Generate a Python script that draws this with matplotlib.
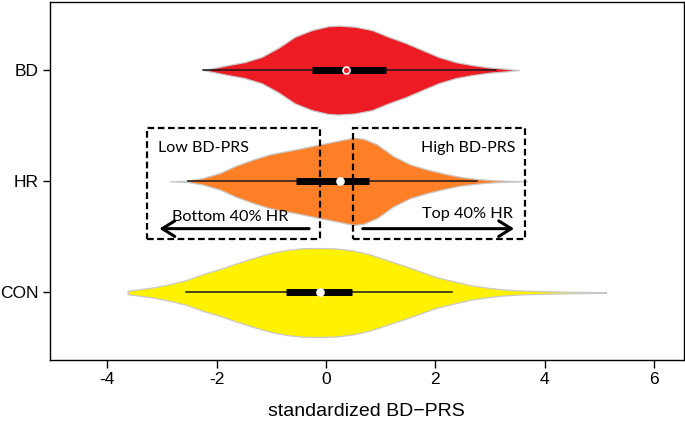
import numpy as np
import matplotlib
matplotlib.use('Agg')
import matplotlib.pyplot as plt
from matplotlib.patches import Rectangle, FancyArrowPatch

plt.rcParams['axes.unicode_minus'] = False

# violin outlines: x position and half-width (in y units)
bd_x = [-2.25, -1.79, -1.49, -1.18, -0.875, -0.57, -0.26, 0.04, 0.23, 0.53,
        0.84, 1.14, 1.45, 1.76, 2.06, 2.37, 2.67, 2.98, 3.28, 3.53]
bd_w = [0.0, 0.045, 0.072, 0.118, 0.2, 0.3, 0.36, 0.395, 0.40, 0.39,
        0.36, 0.3, 0.245, 0.18, 0.118, 0.072, 0.045, 0.024, 0.012, 0.0]

hr_x = [-2.86, -2.53, -2.25, -1.94, -1.64, -1.33, -1.03, -0.72, -0.42, -0.11,
        0.20, 0.50, 0.68, 0.93, 1.23, 1.54, 1.85, 2.15, 2.46, 2.76, 3.07, 3.68]
hr_w = [0.0, 0.006, 0.03, 0.075, 0.142, 0.196, 0.242, 0.271, 0.3, 0.332,
        0.362, 0.392, 0.383, 0.332, 0.226, 0.151, 0.106, 0.07, 0.039, 0.021, 0.009, 0.0]

con_x = [-3.63, -3.17, -2.86, -2.56, -2.25, -1.94, -1.64, -1.33, -1.03, -0.72,
         -0.42, -0.11, 0.20, 0.50, 0.81, 1.11, 1.42, 1.72, 2.03, 2.34,
         2.64, 2.95, 3.25, 3.56, 4.17, 5.12]
con_w = [0.015, 0.045, 0.075, 0.111, 0.166, 0.211, 0.262, 0.31, 0.353, 0.383,
         0.398, 0.40, 0.395, 0.377, 0.341, 0.292, 0.242, 0.19, 0.136, 0.1,
         0.066, 0.043, 0.027, 0.018, 0.009, 0.003]

groups = ['CON', 'HR', 'BD']
# box stats: whisker low, q1, median, q3, whisker high
stats = {
    'BD':  [-2.25, -0.25, 0.37, 1.10, 3.10],
    'HR':  [-2.53, -0.55, 0.26, 0.79, 2.76],
    'CON': [-2.56, -0.74, -0.11, 0.48, 2.31],
}
outlines = {'BD': (bd_x, bd_w), 'HR': (hr_x, hr_w), 'CON': (con_x, con_w)}
colors = {'BD': '#ED1C24', 'HR': '#FF7F27', 'CON': '#FFF200'}
med_colors = {'BD': '#ED1C24', 'HR': 'white', 'CON': 'white'}

# dashed selection boxes (x0, x1) and arrows
low_box = (-3.28, -0.12)
high_box = (0.50, 3.63)
box_y = (1.48, 2.48)

fig = plt.figure(figsize=(6.85, 4.24), dpi=100)
ax = fig.add_axes([0.073, 0.151, 0.925, 0.845])

for i, g in enumerate(groups):
    y0 = i + 1
    xs, ws = np.array(outlines[g][0]), np.array(outlines[g][1])
    ax.fill_between(xs, y0 - ws, y0 + ws, facecolor=colors[g],
                    edgecolor='#C8C8C8', lw=0.9, zorder=2)
    lo, q1, med, q3, hi = stats[g]
    ax.plot([lo, hi], [y0, y0], color='#1a1a1a', lw=1.1, zorder=3)
    ax.plot([q1, q3], [y0, y0], color='black', lw=5, solid_capstyle='butt', zorder=4)
    ax.plot(med, y0, 'o', ms=5, mfc=med_colors[g], mec='white', mew=1.2, zorder=5)

for x0, x1 in [low_box, high_box]:
    ax.add_patch(Rectangle((x0, box_y[0]), x1 - x0, box_y[1] - box_y[0],
                           fill=False, ec='black', lw=1.6, ls=(0, (3, 1.6)), zorder=6))

arrow_kw = dict(arrowstyle='->,head_length=0.45,head_width=0.28', mutation_scale=20,
                color='black', lw=2.2, zorder=6)
ax.add_patch(FancyArrowPatch((-0.26, 1.574), (-3.10, 1.574), **arrow_kw))
ax.add_patch(FancyArrowPatch((0.62, 1.574), (3.49, 1.574), **arrow_kw))

txt_font = ['Lato', 'DejaVu Sans']
ax.text(-3.08, 2.3, 'Low BD-PRS', fontsize=11.5, family=txt_font, va='center', ha='left')
ax.text(3.47, 2.3, 'High BD-PRS', fontsize=11.5, family=txt_font, va='center', ha='right')
ax.text(-2.81, 1.675, 'Bottom 40% HR', fontsize=11.7, family=txt_font, va='center', ha='left')
ax.text(3.42, 1.705, 'Top 40% HR', fontsize=11.7, family=txt_font, va='center', ha='right')

ax.set_xlim(-5.05, 6.54)
ax.set_ylim(0.393, 3.615)
ax.set_xticks([-4, -2, 0, 2, 4, 6])
ax.set_yticks([1, 2, 3])
ax.set_yticklabels(groups)
tick_font = ['Liberation Sans', 'DejaVu Sans']
for lab in ax.get_xticklabels():
    lab.set_family(tick_font)
    lab.set_fontsize(12.5)
for lab in ax.get_yticklabels():
    lab.set_family(tick_font)
    lab.set_fontsize(12.5)
ax.tick_params(axis='x', length=5.5, width=1, pad=3.5)
ax.tick_params(axis='y', length=5, width=1, pad=3)
for s in ax.spines.values():
    s.set_linewidth(1)
ax.set_xlabel('standardized BD\u2212PRS', family=tick_font, fontsize=14, labelpad=11)

fig.savefig('out.png', dpi=100)
